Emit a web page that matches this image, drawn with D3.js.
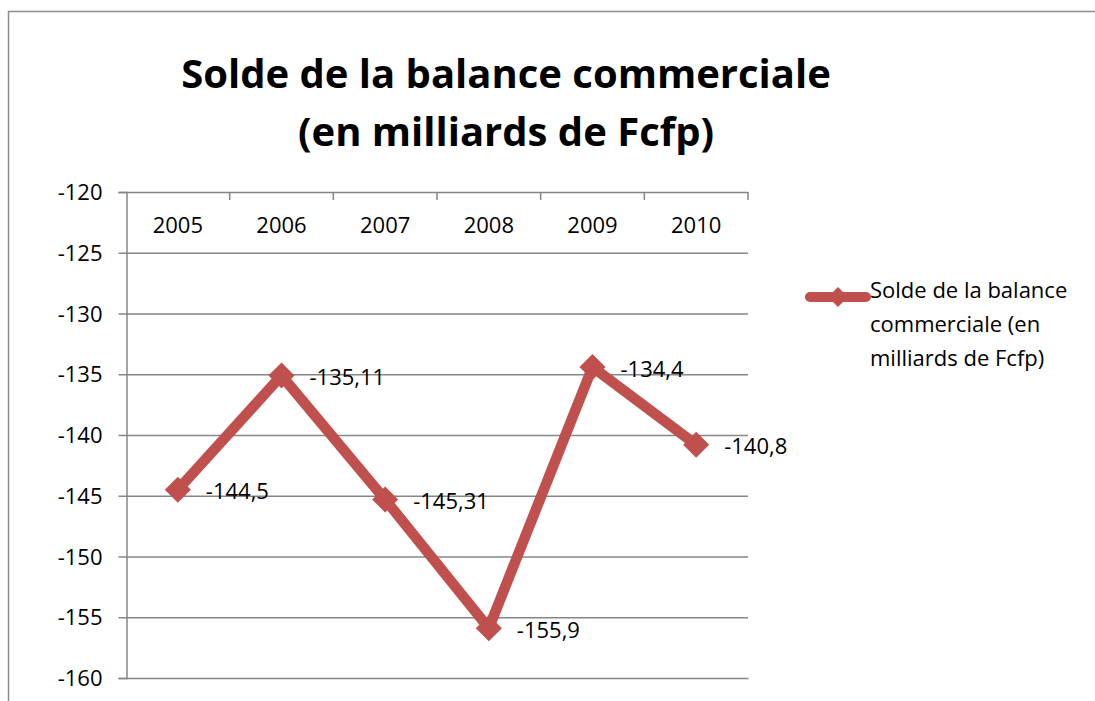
<!DOCTYPE html>
<html>
<head>
<meta charset="utf-8">
<script src="https://cdn.jsdelivr.net/npm/d3@7"></script>
<style>
  body { margin: 0; background: #fff; }
  text { font-family: "Open Sans", sans-serif; fill: #000; }
</style>
</head>
<body>
<div id="chart"></div>
<script>
const years = ["2005", "2006", "2007", "2008", "2009", "2010"];
const values = [-144.5, -135.11, -145.31, -155.9, -134.4, -140.8];
const yTicks = [-120, -125, -130, -135, -140, -145, -150, -155, -160];
const titleLines = ["Solde de la balance commerciale", "(en milliards de Fcfp)"];
const legendLines = ["Solde de la balance", "commerciale (en", "milliards de Fcfp)"];

const W = 1095, H = 701;
const color = "#C0504D";
const gridColor = "#868686";
const plot = {left: 126, right: 748, top: 192, bottom: 678};
const fs = "22px";

const svg = d3.select("#chart").append("svg")
    .attr("width", W)
    .attr("height", H);

// outer frame of the chart
svg.append("rect")
    .attr("x", 8.5).attr("y", 11.5)
    .attr("width", W + 20).attr("height", H + 20)
    .attr("fill", "none")
    .attr("stroke", "#8c8c8c")
    .attr("stroke-width", 1.5);

// title
svg.append("text")
    .attr("x", 506).attr("y", 88)
    .attr("text-anchor", "middle")
    .style("font-size", "40px")
    .style("font-weight", "bold")
    .selectAll("tspan")
    .data(titleLines)
    .enter().append("tspan")
        .attr("x", 506)
        .attr("dy", (d, i) => i ? 58 : 0)
        .text(d => d);

const x = d3.scaleBand().domain(years).range([plot.left, plot.right]);
const y = d3.scaleLinear().domain([-160, -120]).range([plot.bottom, plot.top]);

// horizontal gridlines
svg.append("g")
    .selectAll("line")
    .data(yTicks.filter(t => t !== -120 && t !== -160))
    .enter().append("line")
        .attr("x1", plot.left).attr("x2", plot.right)
        .attr("y1", d => y(d) + 0.5).attr("y2", d => y(d) + 0.5)
        .attr("stroke", gridColor)
        .attr("stroke-width", 1.5);

// y axis
const yAxis = svg.append("g")
    .attr("transform", `translate(${plot.left + 0.5},0)`)
    .call(d3.axisLeft(y).tickValues(yTicks).tickSize(8)
        .tickFormat(d => d3.format("d")(d).replace("−", "-")));
yAxis.select(".domain").attr("stroke", gridColor).attr("stroke-width", 1.5);
yAxis.selectAll(".tick line").attr("stroke", gridColor).attr("stroke-width", 1.5)
    .attr("x2", d => (d === -120 || d === -160) ? plot.right - plot.left : 0)
    .attr("x1", -8);
yAxis.selectAll(".tick text").style("font-size", fs).attr("x", -24).attr("dy", "0.35em");

// x axis at the top, labels below it
const xAxis = svg.append("g")
    .attr("transform", `translate(0,${plot.top + 0.5})`)
    .call(d3.axisBottom(x).tickSize(0).tickPadding(25));
xAxis.select(".domain").remove();
xAxis.selectAll(".tick text").style("font-size", fs);
svg.append("g")
    .selectAll("line")
    .data(years.slice(1).concat(["end"]))
    .enter().append("line")
        .attr("x1", (d, i) => plot.left + (i + 1) * x.step())
        .attr("x2", (d, i) => plot.left + (i + 1) * x.step())
        .attr("y1", plot.top).attr("y2", plot.top + 8)
        .attr("stroke", gridColor)
        .attr("stroke-width", 1.5);

const cx = d => x(d) + x.bandwidth() / 2;

// the series
const line = d3.line()
    .x((d, i) => cx(years[i]))
    .y(d => y(d));

svg.append("path")
    .datum(values)
    .attr("d", line)
    .attr("fill", "none")
    .attr("stroke", color)
    .attr("stroke-width", 10.5)
    .attr("stroke-linejoin", "miter");

const diamond = d3.symbol().type(d3.symbolSquare).size(340);
svg.append("g")
    .selectAll("path")
    .data(values)
    .enter().append("path")
        .attr("d", diamond)
        .attr("transform", (d, i) => `translate(${cx(years[i])},${y(d)}) rotate(45)`)
        .attr("fill", color);

// data labels
svg.append("g")
    .selectAll("text")
    .data(values)
    .enter().append("text")
        .attr("x", (d, i) => cx(years[i]) + 28)
        .attr("y", d => y(d) + 2)
        .attr("dy", "0.35em")
        .style("font-size", fs)
        .text(d => String(d).replace(".", ","));

// legend
const lg = svg.append("g").attr("transform", "translate(808,297)");
lg.append("line")
    .attr("x1", 2).attr("x2", 58)
    .attr("stroke", color)
    .attr("stroke-width", 10)
    .attr("stroke-linecap", "round");
lg.append("path")
    .attr("d", d3.symbol().type(d3.symbolSquare).size(200))
    .attr("transform", "translate(30,0) rotate(45)")
    .attr("fill", color);
lg.append("text")
    .attr("x", 62).attr("y", 1)
    .attr("dy", "0.35em")
    .style("font-size", fs)
    .selectAll("tspan")
    .data(legendLines)
    .enter().append("tspan")
        .attr("x", 62)
        .attr("dy", (d, i) => i ? 34 : 0)
        .text(d => d);
</script>
</body>
</html>
